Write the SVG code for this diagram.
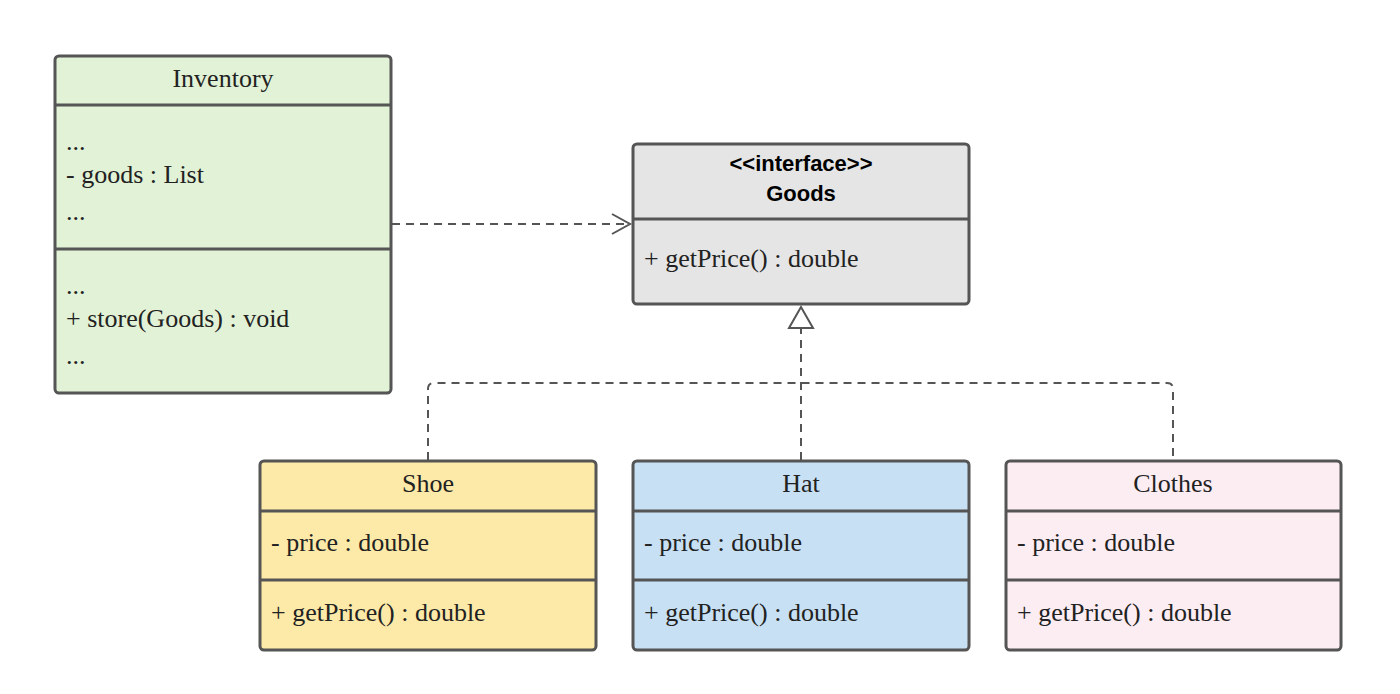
<svg xmlns="http://www.w3.org/2000/svg" width="1400" height="694" viewBox="0 0 1400 694">
<style>
.b{stroke:#555;stroke-width:3}
.l{stroke:#555;stroke-width:3}
text{font-family:"Liberation Serif",serif;font-size:26px;fill:#222}
.c{text-anchor:middle}
.h{font-family:"Liberation Sans",Arial,sans-serif;font-weight:bold;font-size:22px;fill:#000}
.d{fill:none;stroke:#555;stroke-width:2;stroke-dasharray:8 6}
</style>
<rect width="1400" height="694" fill="#fff"/>
<g id="connectors">
<path class="d" d="M392 224H628"/>
<path d="M612 214L630 224L612 234" fill="none" stroke="#555" stroke-width="2"/>
<path class="d" d="M428 460V389Q428 383 434 383H1167Q1173 383 1173 389V460"/>
<path class="d" d="M801 460V329"/>
<path d="M801 307L789 328H813Z" fill="#fff" stroke="#555" stroke-width="2"/>
</g>
<g id="inventory">
<rect class="b" x="55" y="56" width="336" height="337" rx="4" fill="#e2f2d6"/>
<path class="l" d="M55 105H391M55 249H391"/>
<text class="c" x="223" y="87">Inventory</text>
<text x="66" y="150">...</text>
<text x="66" y="183">- goods : List</text>
<text x="66" y="220">...</text>
<text x="66" y="294">...</text>
<text x="66" y="327">+ store(Goods) : void</text>
<text x="66" y="364">...</text>
</g>
<g id="goods">
<rect class="b" x="633" y="144" width="336" height="160" rx="4" fill="#e5e5e5"/>
<path class="l" d="M633 219H969"/>
<text class="c h" x="801" y="171">&lt;&lt;interface&gt;&gt;</text>
<text class="c h" x="801" y="201">Goods</text>
<text x="644" y="267">+ getPrice() : double</text>
</g>
<g id="shoe">
<rect class="b" x="260" y="461" width="336" height="189" rx="4" fill="#fdeaa8"/>
<path class="l" d="M260 511H596M260 580H596"/>
<text class="c" x="428" y="492">Shoe</text>
<text x="271" y="551">-  price : double</text>
<text x="271" y="621">+ getPrice() : double</text>
</g>
<g id="hat">
<rect class="b" x="633" y="461" width="336" height="189" rx="4" fill="#c8e0f3"/>
<path class="l" d="M633 511H969M633 580H969"/>
<text class="c" x="801" y="492">Hat</text>
<text x="644" y="551">-  price : double</text>
<text x="644" y="621">+ getPrice() : double</text>
</g>
<g id="clothes">
<rect class="b" x="1006" y="461" width="335" height="189" rx="4" fill="#fcedf2"/>
<path class="l" d="M1006 511H1341M1006 580H1341"/>
<text class="c" x="1173" y="492">Clothes</text>
<text x="1017" y="551">-  price : double</text>
<text x="1017" y="621">+ getPrice() : double</text>
</g>
</svg>
